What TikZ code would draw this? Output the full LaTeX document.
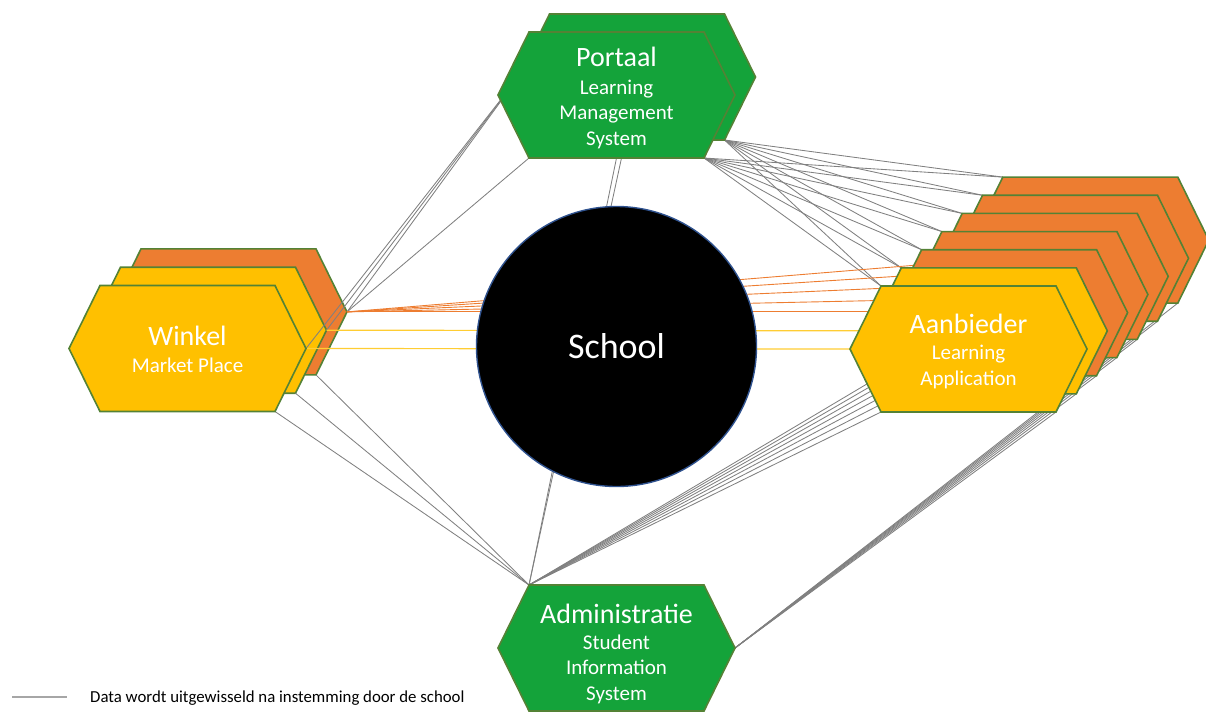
\documentclass[tikz,border=0pt]{standalone}
\usepackage{fontspec}
\setmainfont{Carlito}
\usetikzlibrary{calc}

\definecolor{hexgreen}{RGB}{20,163,58}
\definecolor{hexyellow}{HTML}{FFC000}
\definecolor{hexorange}{HTML}{ED7D31}
\definecolor{hexedge}{HTML}{548235}
\definecolor{ringblue}{HTML}{2F528F}
\definecolor{linkgray}{RGB}{128,128,128}

% corner points of one hexagon: name, centre x, centre y
\newcommand{\hexpoints}[3]{%
  \coordinate (#1) at (#2,#3);
  \coordinate (#1-l)  at ($(#1)+(-118.5,0)$);
  \coordinate (#1-r)  at ($(#1)+(118.5,0)$);
  \coordinate (#1-tl) at ($(#1)+(-87.5,-63)$);
  \coordinate (#1-tr) at ($(#1)+(87.5,-63)$);
  \coordinate (#1-bl) at ($(#1)+(-87.5,63)$);
  \coordinate (#1-br) at ($(#1)+(87.5,63)$);
  \coordinate (#1-b)  at ($(#1)+(0,63)$);
}
% draw one hexagon from its corner points
\newcommand{\hexshape}[2]{%
  \draw[hexline, #2] (#1-l) -- (#1-tl) -- (#1-tr) -- (#1-r) -- (#1-br) -- (#1-bl) -- cycle;
}

\begin{document}
\begin{tikzpicture}[x=1pt, y=-1pt,
    hexline/.style={draw=hexedge, line width=1.6pt, line join=miter},
    link/.style={draw=linkgray, line width=0.85pt},
    yellowlink/.style={draw=hexyellow!80!white, line width=1.2pt},
    orangelink/.style={draw=hexorange, line width=0.9pt},
    hextitle/.style={text=white, inner sep=0pt, anchor=base, font=\fontsize{28}{34}\selectfont},
    hexsub/.style={text=white, inner sep=0pt, anchor=base, align=center, font=\fontsize{21}{25.3}\selectfont}]

    \useasboundingbox (0,0) rectangle (1206,713);

    % Corner points of all hexagons
    \hexpoints{p2}{637}{77}
    \hexpoints{p1}{616.5}{95}
    \hexpoints{adm}{616.5}{648}
    \foreach \k in {1,2,3} {
        \hexpoints{w\k}{{187.5+20.5*(\k-1)}}{{348.5-18.3*(\k-1)}}
    }
    \foreach \k in {1,...,7} {
        \hexpoints{a\k}{{968.5+20.3*(\k-1)}}{{349-18.15*(\k-1)}}
    }
    \coordinate (p1-b2) at ($(p1-b)+(5,0)$);

    % Links of Portaal and Administratie to the Aanbieder stack
    \foreach \k in {1,...,7} {
        \draw[link] (p2-br) -- (a\k-tl);
        \draw[link] (p1-br) -- (a\k-tl);
        \draw[link] (adm-tl) -- (a\k-bl);
        \draw[link] (adm-r) -- (a\k-br);
    }
    % Administratie to Portaal, behind the school
    \draw[link] (adm-tl) -- (p1-b);
    \draw[link] (adm-tl) -- (p1-b2);

    % Back of the Winkel stack
    \hexshape{w3}{fill=hexorange}
    \hexshape{w2}{fill=hexyellow}

    % Links of the Winkel stack
    \foreach \k in {1,2,3} {
        \draw[link] (w\k-br) -- (adm-tl);
        \draw[link] (w\k-r) -- (p2-l);
    }
    \draw[link] (w3-r) -- (p1-bl);
    \draw[yellowlink] (w1-r) -- (a1-l);
    \draw[yellowlink] (w2-r) -- (a2-l);
    \foreach \k/\dy in {1/0, 2/12.5, 3/25.7, 4/37.7, 5/47.9} {
        \coordinate (ao\k) at ($(w3-r)+(583,-\dy)$);
        \draw[orangelink] (w3-r) -- (ao\k);
    }

    % Front of the Winkel stack
    \hexshape{w1}{fill=hexyellow}

    % The school in the middle
    \draw[draw=ringblue, line width=1.4pt, fill=black] (616.5,346.5) circle[radius=140pt];
    \node[text=white, inner sep=0pt, anchor=base, font=\fontsize{36}{40}\selectfont] (school) at (616.5,358) {School};

    % Aanbieder stack, back to front
    \foreach \k/\c in {7/hexorange, 6/hexorange, 5/hexorange, 4/hexorange, 3/hexorange, 2/hexyellow, 1/hexyellow} {
        \hexshape{a\k}{fill=\c}
    }

    % Portaal and Administratie
    \hexshape{p2}{fill=hexgreen}
    \hexshape{p1}{fill=hexgreen}
    \hexshape{adm}{fill=hexgreen}

    % Texts in the hexagons (base of a block = its last line)
    \node[hextitle] (p1-t) at (616.5,66.7) {Portaal};
    \node[hexsub] (p1-s) at (616.5,145) {Learning\\Management\\System};
    \node[hextitle] (w1-t) at (187.5,345) {Winkel};
    \node[hexsub] (w1-s) at (187.5,372) {Market Place};
    \node[hextitle] (a1-t) at (968.5,333) {Aanbieder};
    \node[hexsub] (a1-s) at (968.5,385) {Learning\\Application};
    \node[hextitle] (adm-t) at (616.5,623) {Administratie};
    \node[hexsub] (adm-s) at (616.5,700) {Student\\Information\\System};

    % Legend
    \coordinate (lg-a) at (12,697);
    \coordinate (lg-b) at (67,697);
    \draw[draw=linkgray!70, line width=1.4pt] (lg-a) -- (lg-b);
    \node[inner sep=0pt, anchor=base west, font=\fontsize{16.8}{20}\selectfont] (lg-t) at (90,702) {Data wordt uitgewisseld na instemming door de school};
\end{tikzpicture}
\end{document}
